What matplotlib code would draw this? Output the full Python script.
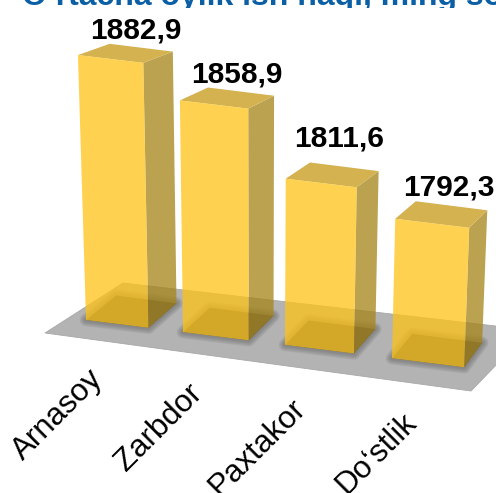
import numpy as np
import matplotlib
matplotlib.use("Agg")
import matplotlib.pyplot as plt
from matplotlib.patches import Polygon, Rectangle

categories = ["Arnasoy", "Zarbdor", "Paxtakor", "Do\u2018stlik"]
values = [1882.9, 1858.9, 1811.6, 1792.3]
value_labels = ["1882,9", "1858,9", "1811,6", "1792,3"]
title = "O\u2018rtacha oylik ish haqi, ming so\u2018m"

plt.rcParams["font.family"] = ["Liberation Sans", "DejaVu Sans"]

# perspective settings
bar_w = 0.65
floor_shape = [(45, 333), (471, 391), (530, 330), (123, 283)]
axis_base = 1691.6
px_per_unit = 1.385
vanish_x = 260
vanish_d = 5720
back_shrink = 0.05
label_dx = [10, 10, 7, 8]
label_dy = [5, 5, 16, 6]
cat_dx = [-61, -62, -63, -63]
cat_dy = [36, 38, 40, 40]


def foot(t, back=False):
    # t is the position along the category axis, 0 = left edge of first bar
    x = 86 + 94.5 * t + 2.5 * t ** 2
    y = 320 + 0.125 * (x - 86)
    if back:
        x, y = x + 28 - 0.032 * (x - 149), y - 24.5
    return np.array([x, y])


def raised(p, value, back=False):
    h = (value - axis_base) * px_per_unit
    if back:
        h = h * (1 - back_shrink)
    return np.array([p[0] + (p[0] - vanish_x) * h / vanish_d, p[1] - h])


fig = plt.figure(figsize=(4.96, 4.93), dpi=100)
ax = fig.add_axes([0, 0, 1, 1])
ax.set_xlim(0, 496)
ax.set_ylim(493, 0)
ax.axis("off")

ax.add_patch(Polygon(floor_shape, fc="#b3b3b3", ec="#a8a8a8", lw=0.6, zorder=1))

for i, v in enumerate(values):
    fl = foot(i)
    fr = foot(i + bar_w)
    br = foot(i + bar_w, True)
    bl = foot(i, True)
    tfl = raised(fl, v)
    tfr = raised(fr, v)
    tbr = raised(br, v, True)
    tbl = raised(bl, v, True)
    z = 2 + i

    # soft shadow round the foot of the bar
    for lw in (9, 7, 5, 3):
        ax.add_patch(Polygon([fl, fr, br, bl], fc="none", ec="#555555", lw=lw, alpha=0.13,
                             joinstyle="round", zorder=z))
    ax.add_patch(Polygon([fl, fr, br, bl], fc="#50505a", ec="none", zorder=z + 0.1))
    ax.add_patch(Polygon([fr, br, tbr, tfr], fc=(166 / 255, 133 / 255, 25 / 255, 0.76), ec="none", zorder=z + 0.2))
    ax.add_patch(Polygon([tfl, tfr, tbr, tbl], fc="#d4b24f", ec="none", zorder=z + 0.3))
    ax.add_patch(Polygon([fl, fr, tfr, tfl], fc=(254 / 255, 196 / 255, 25 / 255, 0.76), ec="none", zorder=z + 0.4))

    ax.text((tfl[0] + tbr[0]) / 2 + label_dx[i], tbl[1] - label_dy[i], value_labels[i], fontsize=21.5,
            fontweight="bold", color="black", ha="center", va="baseline", zorder=10)
    ax.text(fr[0] + cat_dx[i], fr[1] + cat_dy[i], categories[i], fontsize=22.5, color="black", rotation=45,
            ha="right", va="top", rotation_mode="anchor", zorder=10)

ax.text(22, 5, title, fontsize=23, fontweight="bold", color="#0b5fa5", ha="left", va="baseline", zorder=11)
ax.add_patch(Rectangle((0, 7.5), 496, 6, fc="white", ec="none", zorder=12))

fig.savefig("out.png", dpi=100)
